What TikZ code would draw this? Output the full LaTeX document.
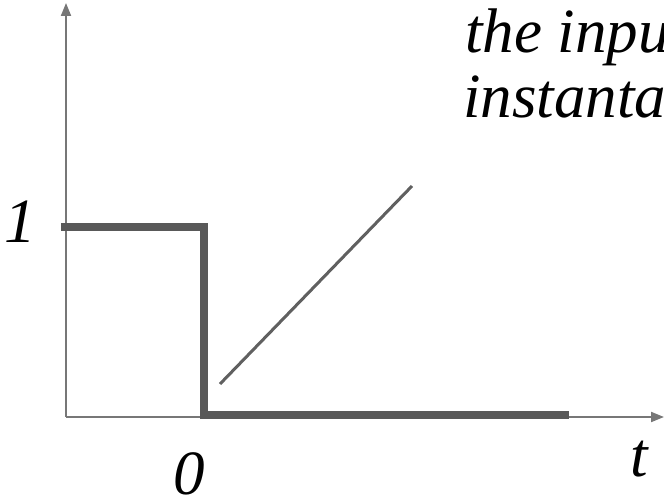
\documentclass[tikz,border=0pt]{standalone}
\usepackage{fontspec}
\setmainfont{Liberation Serif}
\usetikzlibrary{arrows.meta}
\definecolor{axisgray}{HTML}{777777}
\definecolor{stepgray}{HTML}{595959}
\definecolor{rampgray}{HTML}{606060}
\begin{document}
\begin{tikzpicture}[x=1bp,y=-1bp,
  axisline/.style={draw=axisgray,line width=2bp,-{Triangle[length=13bp,width=10bp]}},
  stepline/.style={draw=stepgray,line width=8bp,line join=miter},
  rampline/.style={draw=rampgray,line width=3bp},
  lbl/.style={inner sep=0pt,anchor=base west,font=\fontsize{63bp}{68bp}\selectfont\itshape}]
\useasboundingbox (0,0) rectangle (664,498);
\clip (0,0) rectangle (664,498);
\coordinate (O) at (66,417);
\coordinate (ytop) at (66,3);
\coordinate (xend) at (664,417);
\draw[axisline] (O) -- (ytop);
\draw[axisline] (O) -- (xend);
\coordinate (s1) at (61,227);
\coordinate (s2) at (204,227);
\coordinate (s3) at (204,415);
\coordinate (s4) at (569,415);
\draw[stepline] (s1) -- (s2) -- (s3) -- (s4);
\coordinate (r1) at (220,384);
\coordinate (r2) at (412,186);
\draw[rampline] (r1) -- (r2);
\node[lbl] (one) at (4,243) {1};
\node[lbl] (zero) at (173,494) {0};
\node[lbl] (tlab) at (630,476) {t};
\node[lbl] (txt1) at (465,53) {the inpu};
\node[lbl] (txt2) at (463,118) {instanta};
\end{tikzpicture}
\end{document}
